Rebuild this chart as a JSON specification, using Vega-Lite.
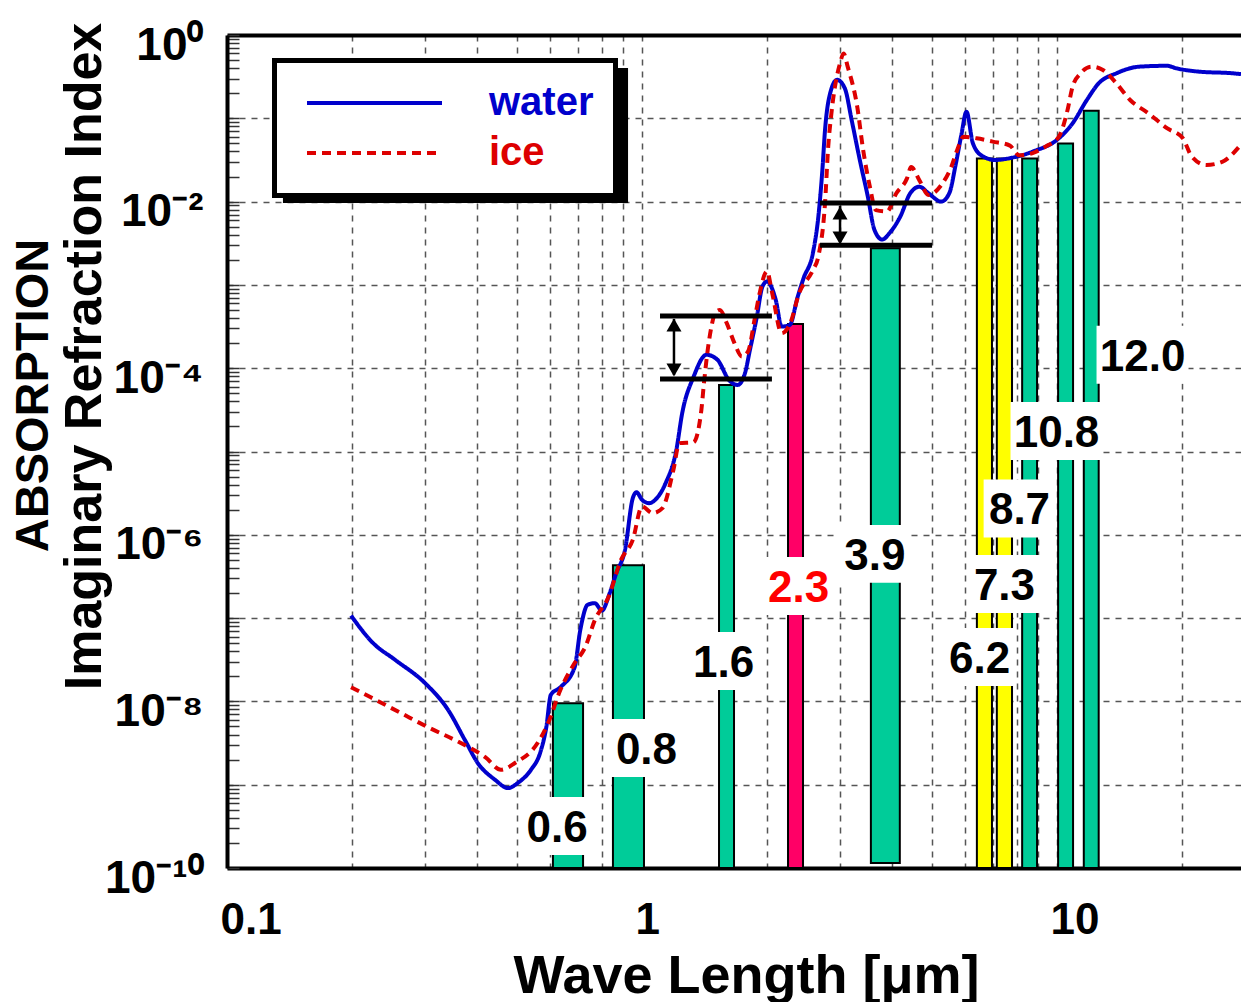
{
  "$schema": "https://vega.github.io/schema/vega-lite/v6.json",
  "width": 1014,
  "height": 833,
  "autosize": "none",
  "padding": {"left": 227, "top": 35, "right": 0, "bottom": 134},
  "background": "white",
  "config": {"view": {"stroke": null}, "font": "Liberation Sans"},
  "title": {"text": "ABSORPTION", "orient": "left", "anchor": "middle", "offset": 0, "dx": 56, "font": "Liberation Sans", "fontSize": 47, "fontWeight": "bold", "color": "black"},
  "datasets": {
    "curves": [
      {"material": "water", "wl": 0.199, "k": 1.07e-7},
      {"material": "water", "wl": 0.225, "k": 5.0e-8},
      {"material": "water", "wl": 0.254, "k": 3.16e-8},
      {"material": "water", "wl": 0.300, "k": 1.66e-8},
      {"material": "water", "wl": 0.341, "k": 7.9e-9},
      {"material": "water", "wl": 0.374, "k": 3.47e-9},
      {"material": "water", "wl": 0.402, "k": 1.82e-9},
      {"material": "water", "wl": 0.442, "k": 1.15e-9},
      {"material": "water", "wl": 0.476, "k": 9.1e-10},
      {"material": "water", "wl": 0.502, "k": 1.05e-9},
      {"material": "water", "wl": 0.540, "k": 1.51e-9},
      {"material": "water", "wl": 0.568, "k": 2.4e-9},
      {"material": "water", "wl": 0.588, "k": 4.9e-9},
      {"material": "water", "wl": 0.603, "k": 1.2e-8},
      {"material": "water", "wl": 0.636, "k": 1.48e-8},
      {"material": "water", "wl": 0.688, "k": 2.57e-8},
      {"material": "water", "wl": 0.710, "k": 7.2e-8},
      {"material": "water", "wl": 0.740, "k": 1.45e-7},
      {"material": "water", "wl": 0.770, "k": 1.51e-7},
      {"material": "water", "wl": 0.800, "k": 1.23e-7},
      {"material": "water", "wl": 0.836, "k": 2.0e-7},
      {"material": "water", "wl": 0.867, "k": 3.47e-7},
      {"material": "water", "wl": 0.910, "k": 6.6e-7},
      {"material": "water", "wl": 0.950, "k": 2.75e-6},
      {"material": "water", "wl": 0.970, "k": 3.24e-6},
      {"material": "water", "wl": 1.00, "k": 2.63e-6},
      {"material": "water", "wl": 1.04, "k": 2.4e-6},
      {"material": "water", "wl": 1.09, "k": 2.82e-6},
      {"material": "water", "wl": 1.14, "k": 4.17e-6},
      {"material": "water", "wl": 1.21, "k": 1.05e-5},
      {"material": "water", "wl": 1.25, "k": 2.9e-5},
      {"material": "water", "wl": 1.33, "k": 7.8e-5},
      {"material": "water", "wl": 1.43, "k": 1.45e-4},
      {"material": "water", "wl": 1.52, "k": 1.26e-4},
      {"material": "water", "wl": 1.62, "k": 7.2e-5},
      {"material": "water", "wl": 1.70, "k": 6.3e-5},
      {"material": "water", "wl": 1.77, "k": 8.7e-5},
      {"material": "water", "wl": 1.82, "k": 1.66e-4},
      {"material": "water", "wl": 1.89, "k": 4.1e-4},
      {"material": "water", "wl": 1.95, "k": 9.5e-4},
      {"material": "water", "wl": 2.00, "k": 1.1e-3},
      {"material": "water", "wl": 2.10, "k": 6.6e-4},
      {"material": "water", "wl": 2.17, "k": 3.16e-4},
      {"material": "water", "wl": 2.27, "k": 3.3e-4},
      {"material": "water", "wl": 2.37, "k": 7.1e-4},
      {"material": "water", "wl": 2.45, "k": 1.2e-3},
      {"material": "water", "wl": 2.58, "k": 2.4e-3},
      {"material": "water", "wl": 2.66, "k": 6.6e-3},
      {"material": "water", "wl": 2.72, "k": 0.024},
      {"material": "water", "wl": 2.76, "k": 0.072},
      {"material": "water", "wl": 2.84, "k": 0.2},
      {"material": "water", "wl": 2.95, "k": 0.29},
      {"material": "water", "wl": 3.08, "k": 0.23},
      {"material": "water", "wl": 3.20, "k": 0.095},
      {"material": "water", "wl": 3.36, "k": 0.029},
      {"material": "water", "wl": 3.50, "k": 0.0115},
      {"material": "water", "wl": 3.63, "k": 0.0046},
      {"material": "water", "wl": 3.79, "k": 0.0035},
      {"material": "water", "wl": 3.95, "k": 0.0042},
      {"material": "water", "wl": 4.19, "k": 0.0066},
      {"material": "water", "wl": 4.43, "k": 0.0126},
      {"material": "water", "wl": 4.66, "k": 0.0151},
      {"material": "water", "wl": 4.90, "k": 0.0126},
      {"material": "water", "wl": 5.26, "k": 0.010},
      {"material": "water", "wl": 5.50, "k": 0.0126},
      {"material": "water", "wl": 5.70, "k": 0.028},
      {"material": "water", "wl": 5.88, "k": 0.063},
      {"material": "water", "wl": 6.05, "k": 0.12},
      {"material": "water", "wl": 6.27, "k": 0.05},
      {"material": "water", "wl": 6.62, "k": 0.035},
      {"material": "water", "wl": 7.10, "k": 0.0316},
      {"material": "water", "wl": 7.86, "k": 0.034},
      {"material": "water", "wl": 8.76, "k": 0.040},
      {"material": "water", "wl": 10.1, "k": 0.0575},
      {"material": "water", "wl": 10.9, "k": 0.087},
      {"material": "water", "wl": 11.8, "k": 0.166},
      {"material": "water", "wl": 12.6, "k": 0.263},
      {"material": "water", "wl": 13.9, "k": 0.347},
      {"material": "water", "wl": 15.8, "k": 0.417},
      {"material": "water", "wl": 18.4, "k": 0.427},
      {"material": "water", "wl": 19.4, "k": 0.398},
      {"material": "water", "wl": 22.0, "k": 0.363},
      {"material": "water", "wl": 26.5, "k": 0.347},
      {"material": "water", "wl": 27.75, "k": 0.339},
      {"material": "ice", "wl": 0.199, "k": 1.48e-8},
      {"material": "ice", "wl": 0.222, "k": 1.12e-8},
      {"material": "ice", "wl": 0.263, "k": 7.2e-9},
      {"material": "ice", "wl": 0.305, "k": 4.9e-9},
      {"material": "ice", "wl": 0.366, "k": 3.16e-9},
      {"material": "ice", "wl": 0.419, "k": 2.14e-9},
      {"material": "ice", "wl": 0.457, "k": 1.51e-9},
      {"material": "ice", "wl": 0.494, "k": 1.82e-9},
      {"material": "ice", "wl": 0.562, "k": 3.24e-9},
      {"material": "ice", "wl": 0.594, "k": 5.5e-9},
      {"material": "ice", "wl": 0.636, "k": 1.38e-8},
      {"material": "ice", "wl": 0.688, "k": 2.88e-8},
      {"material": "ice", "wl": 0.73, "k": 4.5e-8},
      {"material": "ice", "wl": 0.77, "k": 9.5e-8},
      {"material": "ice", "wl": 0.83, "k": 1.78e-7},
      {"material": "ice", "wl": 0.89, "k": 5.0e-7},
      {"material": "ice", "wl": 0.95, "k": 8.7e-7},
      {"material": "ice", "wl": 1.00, "k": 2.19e-6},
      {"material": "ice", "wl": 1.06, "k": 1.82e-6},
      {"material": "ice", "wl": 1.12, "k": 2.09e-6},
      {"material": "ice", "wl": 1.19, "k": 6.0e-6},
      {"material": "ice", "wl": 1.23, "k": 1.26e-5},
      {"material": "ice", "wl": 1.33, "k": 1.29e-5},
      {"material": "ice", "wl": 1.39, "k": 3.16e-5},
      {"material": "ice", "wl": 1.41, "k": 6.6e-5},
      {"material": "ice", "wl": 1.44, "k": 1.66e-4},
      {"material": "ice", "wl": 1.47, "k": 3.16e-4},
      {"material": "ice", "wl": 1.50, "k": 4.6e-4},
      {"material": "ice", "wl": 1.54, "k": 5.0e-4},
      {"material": "ice", "wl": 1.60, "k": 3.47e-4},
      {"material": "ice", "wl": 1.67, "k": 2.0e-4},
      {"material": "ice", "wl": 1.74, "k": 1.38e-4},
      {"material": "ice", "wl": 1.80, "k": 1.58e-4},
      {"material": "ice", "wl": 1.87, "k": 4.0e-4},
      {"material": "ice", "wl": 1.92, "k": 7.9e-4},
      {"material": "ice", "wl": 2.00, "k": 1.45e-3},
      {"material": "ice", "wl": 2.06, "k": 7.9e-4},
      {"material": "ice", "wl": 2.17, "k": 2.63e-4},
      {"material": "ice", "wl": 2.28, "k": 3.55e-4},
      {"material": "ice", "wl": 2.39, "k": 7.9e-4},
      {"material": "ice", "wl": 2.58, "k": 1.5e-3},
      {"material": "ice", "wl": 2.66, "k": 2.2e-3},
      {"material": "ice", "wl": 2.76, "k": 9.5e-3},
      {"material": "ice", "wl": 2.81, "k": 0.046},
      {"material": "ice", "wl": 2.86, "k": 0.115},
      {"material": "ice", "wl": 3.00, "k": 0.457},
      {"material": "ice", "wl": 3.06, "k": 0.6},
      {"material": "ice", "wl": 3.13, "k": 0.417},
      {"material": "ice", "wl": 3.30, "k": 0.138},
      {"material": "ice", "wl": 3.41, "k": 0.042},
      {"material": "ice", "wl": 3.54, "k": 0.0151},
      {"material": "ice", "wl": 3.66, "k": 0.0079},
      {"material": "ice", "wl": 3.89, "k": 0.0076},
      {"material": "ice", "wl": 4.10, "k": 0.0126},
      {"material": "ice", "wl": 4.35, "k": 0.019},
      {"material": "ice", "wl": 4.45, "k": 0.026},
      {"material": "ice", "wl": 4.66, "k": 0.018},
      {"material": "ice", "wl": 4.90, "k": 0.012},
      {"material": "ice", "wl": 5.26, "k": 0.0158},
      {"material": "ice", "wl": 5.56, "k": 0.026},
      {"material": "ice", "wl": 5.75, "k": 0.042},
      {"material": "ice", "wl": 5.95, "k": 0.06},
      {"material": "ice", "wl": 6.40, "k": 0.0575},
      {"material": "ice", "wl": 7.00, "k": 0.0525},
      {"material": "ice", "wl": 7.70, "k": 0.047},
      {"material": "ice", "wl": 8.10, "k": 0.036},
      {"material": "ice", "wl": 8.70, "k": 0.038},
      {"material": "ice", "wl": 9.40, "k": 0.046},
      {"material": "ice", "wl": 10.1, "k": 0.06},
      {"material": "ice", "wl": 10.6, "k": 0.126},
      {"material": "ice", "wl": 10.9, "k": 0.24},
      {"material": "ice", "wl": 11.4, "k": 0.347},
      {"material": "ice", "wl": 12.1, "k": 0.417},
      {"material": "ice", "wl": 12.9, "k": 0.38},
      {"material": "ice", "wl": 13.9, "k": 0.263},
      {"material": "ice", "wl": 15.0, "k": 0.166},
      {"material": "ice", "wl": 16.6, "k": 0.115},
      {"material": "ice", "wl": 18.4, "k": 0.076},
      {"material": "ice", "wl": 20.1, "k": 0.0575},
      {"material": "ice", "wl": 21.1, "k": 0.035},
      {"material": "ice", "wl": 22.9, "k": 0.0275},
      {"material": "ice", "wl": 25.0, "k": 0.030},
      {"material": "ice", "wl": 27.5, "k": 0.046}
    ],
    "bands": [
      {"band": "0.6", "x1": 0.610, "x2": 0.721, "top": 9.5e-9, "bottom": 1e-10, "type": "window", "lx": 0.624, "ly": 3.19e-10},
      {"band": "0.8", "x1": 0.851, "x2": 1.011, "top": 4.3e-7, "bottom": 1e-10, "type": "window", "lx": 1.025, "ly": 2.75e-9},
      {"band": "1.6", "x1": 1.533, "x2": 1.666, "top": 6.3e-5, "bottom": 1e-10, "type": "window", "lx": 1.572, "ly": 3.05e-8},
      {"band": "2.3", "x1": 2.248, "x2": 2.443, "top": 3.4e-4, "bottom": 1e-10, "type": "nir", "lx": 2.383, "ly": 2.43e-7},
      {"band": "3.9", "x1": 3.56, "x2": 4.18, "top": 2.75e-3, "bottom": 1.15e-10, "type": "window", "lx": 3.64, "ly": 5.9e-7},
      {"band": "6.2", "x1": 6.41, "x2": 6.97, "top": 0.033, "bottom": 1e-10, "type": "vapor", "lx": 6.51, "ly": 3.41e-8},
      {"band": "7.3", "x1": 7.16, "x2": 7.79, "top": 0.033, "bottom": 1e-10, "type": "vapor", "lx": 7.47, "ly": 2.57e-7},
      {"band": "8.7", "x1": 8.24, "x2": 8.95, "top": 0.033, "bottom": 1e-10, "type": "window", "lx": 8.12, "ly": 2.07e-6},
      {"band": "10.8", "x1": 10.06, "x2": 10.93, "top": 0.05, "bottom": 1e-10, "type": "window", "lx": 9.97, "ly": 1.76e-5},
      {"band": "12.0", "x1": 11.6, "x2": 12.6, "top": 0.123, "bottom": 1e-10, "type": "window", "lx": 16.07, "ly": 1.45e-4}
    ],
    "levels": [
      {"x1": 1.105, "x2": 2.056, "y": 4.24e-4},
      {"x1": 1.105, "x2": 2.056, "y": 7.4e-5},
      {"x1": 2.685, "x2": 5.0, "y": 9.6e-3},
      {"x1": 2.685, "x2": 5.0, "y": 3.0e-3}
    ],
    "arrows": [
      {"x": 1.194, "y1": 3.9e-4, "y2": 8.3e-5, "up": 3.3e-4, "down": 9.5e-5},
      {"x": 3.0, "y1": 8.9e-3, "y2": 3.27e-3, "up": 7.3e-3, "down": 3.66e-3}
    ]
  },
  "layer": [
    {
      "data": {"name": "bands"},
      "mark": {"type": "rect", "stroke": "black", "strokeWidth": 2},
      "encoding": {
        "x": {
          "field": "x1", "type": "quantitative",
          "scale": {"type": "log", "domain": [0.1, 27.75], "nice": false},
          "axis": {
            "values": [0.1, 0.2, 0.3, 0.4, 0.5, 0.6, 0.7, 0.8, 0.9, 1, 2, 3, 4, 5, 6, 7, 8, 9, 10, 20],
            "grid": true, "gridColor": "#555555", "gridDash": [6, 6], "gridWidth": 1.5,
            "ticks": false,
            "domainColor": "black", "domainWidth": 4,
            "labelExpr": "datum.value == 0.1 ? '0.1' : datum.value == 1 ? '1' : datum.value == 10 ? '10' : ''",
            "labelAlign": "left", "labelOffset": -7, "labelPadding": 30,
            "labelFont": "Liberation Sans", "labelFontSize": 44, "labelFontWeight": "bold", "labelColor": "black",
            "labelFlush": false, "labelOverlap": false, "labelBound": false,
            "title": "Wave Length [μm]",
            "titleFont": "Liberation Sans", "titleFontSize": 54, "titleFontWeight": "bold", "titleColor": "black",
            "titleX": 519, "titleY": 124, "titleBaseline": "alphabetic", "titleAlign": "center"
          }
        },
        "x2": {"field": "x2"},
        "y": {
          "field": "top", "type": "quantitative",
          "scale": {"type": "log", "domain": [1e-10, 1], "nice": false},
          "axis": {
            "values": [1e-10, 2e-10, 3e-10, 4e-10, 5e-10, 6e-10, 7e-10, 8e-10, 9e-10,
                       1e-9, 2e-9, 3e-9, 4e-9, 5e-9, 6e-9, 7e-9, 8e-9, 9e-9,
                       1e-8, 2e-8, 3e-8, 4e-8, 5e-8, 6e-8, 7e-8, 8e-8, 9e-8,
                       1e-7, 2e-7, 3e-7, 4e-7, 5e-7, 6e-7, 7e-7, 8e-7, 9e-7,
                       1e-6, 2e-6, 3e-6, 4e-6, 5e-6, 6e-6, 7e-6, 8e-6, 9e-6,
                       1e-5, 2e-5, 3e-5, 4e-5, 5e-5, 6e-5, 7e-5, 8e-5, 9e-5,
                       1e-4, 2e-4, 3e-4, 4e-4, 5e-4, 6e-4, 7e-4, 8e-4, 9e-4,
                       0.001, 0.002, 0.003, 0.004, 0.005, 0.006, 0.007, 0.008, 0.009,
                       0.01, 0.02, 0.03, 0.04, 0.05, 0.06, 0.07, 0.08, 0.09,
                       0.1, 0.2, 0.3, 0.4, 0.5, 0.6, 0.7, 0.8, 0.9, 1],
            "grid": true,
            "gridColor": {"condition": {"test": "datum.value >= 0.99", "value": "black"}, "value": "#555555"},
            "gridWidth": {"condition": {"test": "datum.value >= 0.99", "value": 4}, "value": 1.5},
            "gridDash": {"condition": {"test": "datum.value >= 0.99", "value": []}, "value": [6, 6]},
            "gridOpacity": {"condition": {"test": "abs(log(datum.value)/LN10 - round(log(datum.value)/LN10)) < 0.01", "value": 1}, "value": 0},
            "ticks": true, "tickSize": -12, "tickColor": "#333333", "tickWidth": 1.5,
            "domainColor": "black", "domainWidth": 4,
            "labelExpr": "datum.value == 1 ? '10⁰' : datum.value == 0.01 ? '10⁻²' : datum.value == 0.0001 ? '10⁻⁴' : datum.value == 0.000001 ? '10⁻⁶' : datum.value == 0.00000001 ? '10⁻⁸' : datum.value == 0.0000000001 ? '10⁻¹⁰' : ''",
            "labelAlign": "right", "labelBaseline": "middle", "labelPadding": 36, "labelOffset": 10,
            "labelFont": "Liberation Sans", "labelFontSize": 46, "labelFontWeight": "bold", "labelColor": "black",
            "labelFlush": false, "labelOverlap": false, "labelBound": false,
            "title": "Imaginary Refraction Index",
            "titleFont": "Liberation Sans", "titleFontSize": 52, "titleFontWeight": "bold", "titleColor": "black",
            "titleX": -127, "titleY": 321, "titleAngle": -90, "titleBaseline": "alphabetic", "titleAlign": "center"
          }
        },
        "y2": {"field": "bottom"},
        "fill": {"field": "type", "type": "nominal", "scale": {"domain": ["window", "vapor", "nir"], "range": ["#00CC99", "#FFFF00", "#FF0066"]}, "legend": null}
      }
    },
    {
      "data": {"name": "bands"},
      "mark": {"type": "point", "filled": true, "color": "white", "opacity": 1, "size": 8464, "strokeWidth": 0},
      "encoding": {
        "x": {"field": "lx", "type": "quantitative", "scale": {"type": "log", "domain": [0.1, 27.75], "nice": false}},
        "y": {"field": "ly", "type": "quantitative", "scale": {"type": "log", "domain": [1e-10, 1], "nice": false}},
        "shape": {"condition": {"test": "length(datum.band) > 3", "value": "M-1,-0.63H1V0.63H-1Z"}, "value": "M-0.78,-0.63H0.78V0.63H-0.78Z"}
      }
    },
    {
      "data": {"name": "bands"},
      "mark": {"type": "text", "font": "Liberation Sans", "fontSize": 44, "fontWeight": "bold", "align": "center", "baseline": "alphabetic", "dy": 16},
      "encoding": {
        "x": {"field": "lx", "type": "quantitative", "scale": {"type": "log", "domain": [0.1, 27.75], "nice": false}},
        "y": {"field": "ly", "type": "quantitative", "scale": {"type": "log", "domain": [1e-10, 1], "nice": false}},
        "text": {"field": "band"},
        "color": {"field": "type", "type": "nominal", "scale": {"domain": ["window", "vapor", "nir"], "range": ["black", "black", "#FF0000"]}, "legend": null}
      }
    },
    {
      "data": {"values": [{}]},
      "mark": {"type": "rect", "color": "black", "opacity": 1},
      "encoding": {
        "x": {"datum": 0.1364, "type": "quantitative", "scale": {"type": "log", "domain": [0.1, 27.75], "nice": false}},
        "x2": {"datum": 0.9254},
        "y": {"datum": 0.4017, "type": "quantitative", "scale": {"type": "log", "domain": [1e-10, 1], "nice": false}},
        "y2": {"datum": 0.00962}
      }
    },
    {
      "data": {"name": "curves"},
      "mark": {"type": "line", "strokeWidth": 4, "interpolate": "monotone"},
      "encoding": {
        "x": {"field": "wl", "type": "quantitative", "scale": {"type": "log", "domain": [0.1, 27.75], "nice": false}},
        "y": {"field": "k", "type": "quantitative", "scale": {"type": "log", "domain": [1e-10, 1], "nice": false}},
        "stroke": {
          "field": "material", "type": "nominal",
          "scale": {"domain": ["water", "ice"], "range": ["#0000CC", "#DD0000"]},
          "legend": {
            "title": null, "orient": "none", "legendX": 47.5, "legendY": 25.5,
            "symbolType": "stroke", "symbolSize": 18225, "symbolStrokeWidth": 4, "symbolOffset": 8.5, "clipHeight": 41,
            "labelFont": "Liberation Sans", "labelFontSize": 40, "labelFontWeight": "bold", "labelOffset": 45,
            "padding": 22, "rowPadding": 9, "fillColor": "white", "strokeColor": "black",
            "encode": {
              "legend": {"update": {"strokeWidth": {"value": 5}}},
              "labels": {"update": {"fill": {"signal": "datum.value === 'water' ? '#0000CC' : '#DD0000'"}}}
            }
          }
        },
        "strokeDash": {
          "field": "material", "type": "nominal",
          "scale": {"domain": ["water", "ice"], "range": [[1, 0], [9, 6]]},
          "legend": {
            "title": null, "orient": "none", "legendX": 47.5, "legendY": 25.5,
            "symbolType": "stroke", "symbolSize": 18225, "symbolStrokeWidth": 4, "symbolOffset": 8.5, "clipHeight": 41,
            "labelFont": "Liberation Sans", "labelFontSize": 40, "labelFontWeight": "bold", "labelOffset": 45,
            "padding": 22, "rowPadding": 9, "fillColor": "white", "strokeColor": "black",
            "encode": {
              "legend": {"update": {"strokeWidth": {"value": 5}}},
              "labels": {"update": {"fill": {"signal": "datum.value === 'water' ? '#0000CC' : '#DD0000'"}}}
            }
          }
        }
      }
    },
    {
      "data": {"name": "levels"},
      "mark": {"type": "rule", "color": "black", "strokeWidth": 5},
      "encoding": {
        "x": {"field": "x1", "type": "quantitative", "scale": {"type": "log", "domain": [0.1, 27.75], "nice": false}},
        "x2": {"field": "x2"},
        "y": {"field": "y", "type": "quantitative", "scale": {"type": "log", "domain": [1e-10, 1], "nice": false}}
      }
    },
    {
      "data": {"name": "arrows"},
      "mark": {"type": "rule", "color": "black", "strokeWidth": 2.5},
      "encoding": {
        "x": {"field": "x", "type": "quantitative", "scale": {"type": "log", "domain": [0.1, 27.75], "nice": false}},
        "y": {"field": "y1", "type": "quantitative", "scale": {"type": "log", "domain": [1e-10, 1], "nice": false}},
        "y2": {"field": "y2"}
      }
    },
    {
      "data": {"name": "arrows"},
      "mark": {"type": "point", "shape": "triangle-up", "filled": true, "color": "black", "opacity": 1, "size": 225},
      "encoding": {
        "x": {"field": "x", "type": "quantitative", "scale": {"type": "log", "domain": [0.1, 27.75], "nice": false}},
        "y": {"field": "up", "type": "quantitative", "scale": {"type": "log", "domain": [1e-10, 1], "nice": false}}
      }
    },
    {
      "data": {"name": "arrows"},
      "mark": {"type": "point", "shape": "triangle-down", "filled": true, "color": "black", "opacity": 1, "size": 225},
      "encoding": {
        "x": {"field": "x", "type": "quantitative", "scale": {"type": "log", "domain": [0.1, 27.75], "nice": false}},
        "y": {"field": "down", "type": "quantitative", "scale": {"type": "log", "domain": [1e-10, 1], "nice": false}}
      }
    }
  ]
}
